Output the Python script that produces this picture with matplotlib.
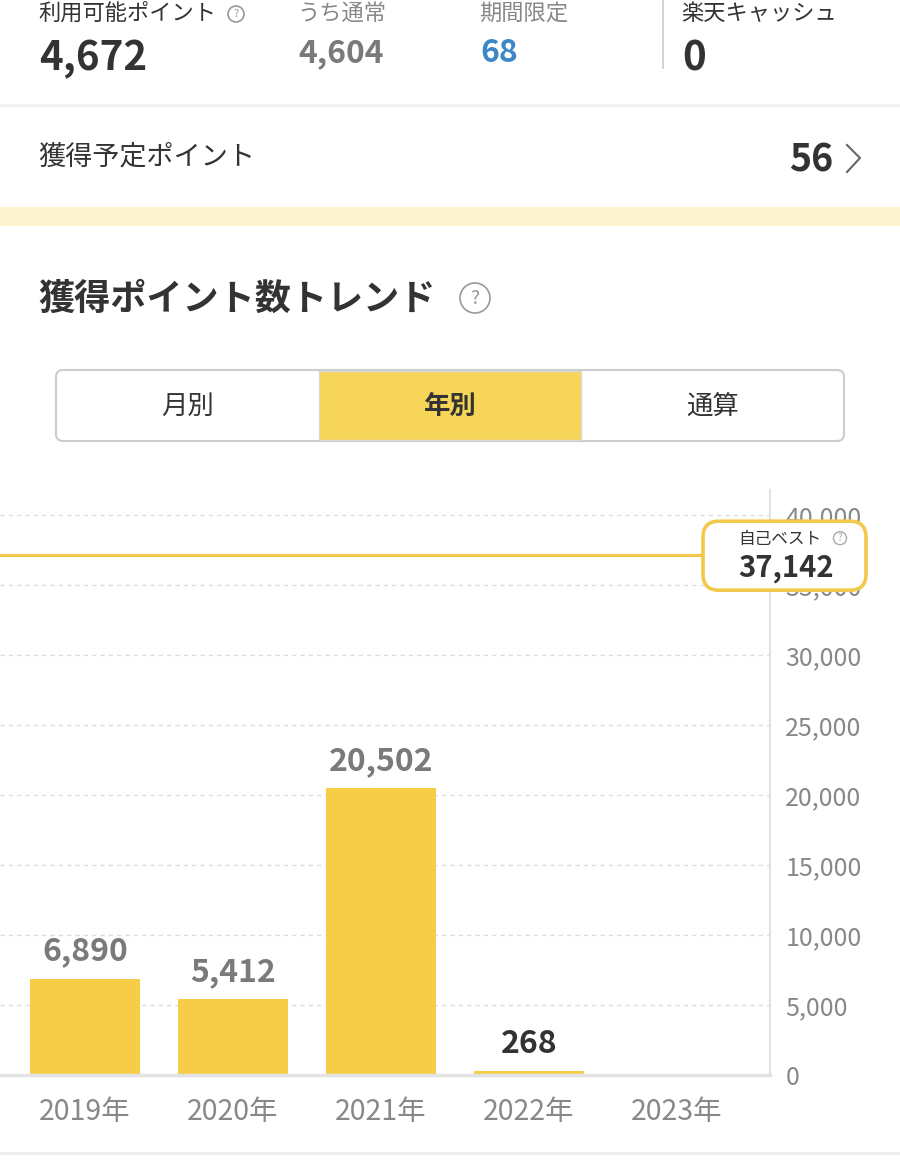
import matplotlib.pyplot as plt
from matplotlib.patches import FancyBboxPatch, Circle, Rectangle
from matplotlib.ticker import FuncFormatter

plt.rcParams['font.family'] = ['Noto Sans CJK JP', 'DejaVu Sans']

# データ
years = ["2019年", "2020年", "2021年", "2022年", "2023年"]
points = [6890, 5412, 20502, 268, 0]
current_year = "2022年"
best = 37142
yticks = [0, 5000, 10000, 15000, 20000, 25000, 30000, 35000, 40000]

summary_labels = ["利用可能ポイント", "うち通常", "期間限定", "楽天キャッシュ"]
summary_values = ["4,672", "4,604", "68", "0"]
pending_label = "獲得予定ポイント"
pending_value = "56"
tabs = ["月別", "年別", "通算"]
active_tab = "年別"

W, H = 900, 1173
DARK = '#333333'
GRAY = '#888888'
YELLOW = '#f5cd47'
LINE_Y = '#f2c94c'

fig = plt.figure(figsize=(W / 100, H / 100), dpi=100)

# グラフ本体
ax = fig.add_axes([0, 98 / H, 770 / W, (1075 - 490) / H])
x = list(range(len(years)))
ax.bar(x, points, width=0.743, color=YELLOW, zorder=2)
for i, v in enumerate(points):
    if v <= 0:
        continue
    c = DARK if years[i] == current_year else '#7a7a7a'
    ax.annotate(f"{v:,}", (i, v), xytext=(0, 8), textcoords='offset points',
                ha='center', va='bottom', fontsize=23, fontweight='bold', color=c)
ax.axhline(best, color=LINE_Y, lw=2.3, zorder=3)
ax.set_xlim(-0.574, 4.628)
ax.set_ylim(0, 41800)
ax.set_yticks(yticks)
ax.yaxis.set_major_formatter(FuncFormatter(lambda v, p: f"{int(v):,}"))
ax.yaxis.tick_right()
ax.set_xticks(x)
ax.set_xticklabels(years)
ax.tick_params(axis='y', length=0, pad=11, labelsize=18, labelcolor=GRAY)
ax.tick_params(axis='x', length=0, pad=16, labelsize=20.5, labelcolor=GRAY)
for s in ['left', 'top']:
    ax.spines[s].set_visible(False)
ax.spines['right'].set_color('#e3e3e3')
ax.spines['right'].set_linewidth(1.5)
ax.spines['bottom'].set_color('#e3e3e3')
ax.spines['bottom'].set_linewidth(2.5)
ax.grid(axis='y', linestyle=(0, (3, 3)), color='#dcdcdc', lw=1, zorder=0)
ax.set_axisbelow(True)

# UI部分(ピクセル座標)
ui = fig.add_axes([0, 0, 1, 1])
ui.set_xlim(0, W)
ui.set_ylim(H, 0)
ui.axis('off')
ui.patch.set_alpha(0)


def qmark(cx, cy, r, fs):
    ui.add_patch(Circle((cx, cy), r, fill=False, ec='#999999', lw=1.2))
    ui.text(cx, cy, "?", ha='center', va='center', fontsize=fs, color='#999999')


lx = [38, 297, 479, 681]
lcol = [DARK, GRAY, GRAY, DARK]
vcol = [DARK, '#7a7a7a', '#3d87c7', DARK]
vsize = [29, 23, 23, 29]
vy = [59, 53, 53, 59]
for i in range(4):
    ui.text(lx[i], 13, summary_labels[i], fontsize=16, color=lcol[i], va='center')
    ui.text(lx[i] + 1, vy[i], summary_values[i], fontsize=vsize[i], fontweight='bold',
            color=vcol[i], va='center')
qmark(236, 14, 8, 8)
ui.plot([663, 663], [0, 68], color='#cccccc', lw=1.2)
ui.plot([0, W], [105, 105], color='#f0f0f0', lw=2)

ui.text(38, 157, pending_label, fontsize=19.5, color=DARK, va='center')
ui.text(833, 160, pending_value, fontsize=27, fontweight='bold', color=DARK,
        va='center', ha='right')
ui.plot([847, 860, 847], [145, 158, 172], color='#666666', lw=1.5)

ui.add_patch(Rectangle((0, 207), W, 19, color='#fdf4cf', lw=0))

ui.text(38, 299, "獲得ポイント数トレンド", fontsize=26, fontweight='bold', color=DARK,
        va='center')
qmark(475, 298, 15, 14)

# タブ
ui.add_patch(FancyBboxPatch((56, 370), 788, 71, boxstyle="round,pad=0,rounding_size=7",
                            fc='white', ec='#cccccc', lw=1.5))
seg = 788 / 3
for i, t in enumerate(tabs):
    x0 = 56 + i * seg
    if t == active_tab:
        ui.add_patch(Rectangle((x0, 371), seg, 69, fc='#f7d558', ec='#d8d8d8', lw=1))
    ui.text(x0 + seg / 2, 406, t, ha='center', va='center', fontsize=19, color=DARK,
            fontweight='bold' if t == active_tab else 'normal')

# 自己ベスト
fig.canvas.draw()
disp = ax.transData.transform((0, best))
by = ui.transData.inverted().transform(disp)[1]
ui.add_patch(FancyBboxPatch((703, by - 34), 163, 69, boxstyle="round,pad=0,rounding_size=16",
                            fc='white', ec=LINE_Y, lw=2.6, zorder=5))
ui.text(780, by - 16, "自己ベスト", ha='center', va='center', fontsize=12, color=DARK, zorder=6)
ui.add_patch(Circle((840, by - 17), 6.5, fill=False, ec='#aaaaaa', lw=1, zorder=6))
ui.text(840, by - 17, "?", ha='center', va='center', fontsize=7, color='#aaaaaa', zorder=6)
ui.text(786, by + 13, f"{best:,}", ha='center', va='center', fontsize=21,
        fontweight='bold', color=DARK, zorder=6)

ui.plot([0, W], [1153, 1153], color='#eeeeee', lw=2)

fig.savefig('out.png', dpi=100)
